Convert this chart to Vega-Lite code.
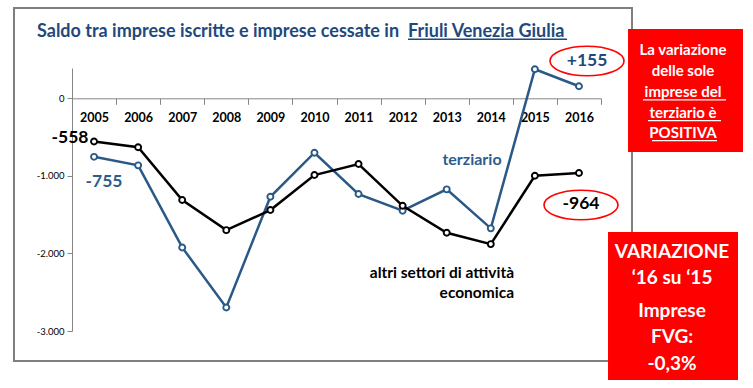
{
  "$schema": "https://vega.github.io/schema/vega-lite/v6.json",
  "width": 529,
  "height": 263,
  "autosize": {"type": "none"},
  "padding": {"left": 72, "top": 68, "right": 152, "bottom": 57},
  "background": "white",
  "config": {"view": {"stroke": null}, "font": "Lato", "text": {"font": "Lato"}},
  "datasets": {
    "saldo": [
      {"anno": "2005", "serie": "altri settori", "saldo": -558},
      {"anno": "2006", "serie": "altri settori", "saldo": -632},
      {"anno": "2007", "serie": "altri settori", "saldo": -1312},
      {"anno": "2008", "serie": "altri settori", "saldo": -1700},
      {"anno": "2009", "serie": "altri settori", "saldo": -1441},
      {"anno": "2010", "serie": "altri settori", "saldo": -990},
      {"anno": "2011", "serie": "altri settori", "saldo": -848},
      {"anno": "2012", "serie": "altri settori", "saldo": -1386},
      {"anno": "2013", "serie": "altri settori", "saldo": -1734},
      {"anno": "2014", "serie": "altri settori", "saldo": -1880},
      {"anno": "2015", "serie": "altri settori", "saldo": -999},
      {"anno": "2016", "serie": "altri settori", "saldo": -964},
      {"anno": "2005", "serie": "terziario", "saldo": -755},
      {"anno": "2006", "serie": "terziario", "saldo": -865},
      {"anno": "2007", "serie": "terziario", "saldo": -1923},
      {"anno": "2008", "serie": "terziario", "saldo": -2697},
      {"anno": "2009", "serie": "terziario", "saldo": -1270},
      {"anno": "2010", "serie": "terziario", "saldo": -702},
      {"anno": "2011", "serie": "terziario", "saldo": -1235},
      {"anno": "2012", "serie": "terziario", "saldo": -1450},
      {"anno": "2013", "serie": "terziario", "saldo": -1174},
      {"anno": "2014", "serie": "terziario", "saldo": -1677},
      {"anno": "2015", "serie": "terziario", "saldo": 374},
      {"anno": "2016", "serie": "terziario", "saldo": 155}
    ]
  },
  "layer": [
    {
      "data": {"name": "saldo"},
      "encoding": {
        "x": {"field": "anno", "type": "ordinal",
          "scale": {"type": "band", "paddingInner": 0, "paddingOuter": 0},
          "axis": {"orient": "bottom", "offset": -232.7, "tickBand": "extent", "domainColor": "#868686", "tickColor": "#868686", "tickSize": 6, "labelFontSize": 12.5, "labelFontWeight": "bold", "labelColor": "#000000", "labelFont": "Lato", "labelBaseline": "middle", "labelPadding": 12.7, "labelDx": 6.5, "labelAngle": 0, "title": null, "grid": false}},
        "y": {"field": "saldo", "type": "quantitative",
          "scale": {"domain": [-3000, 390], "nice": false, "zero": false},
          "axis": {"orient": "left", "values": [-3000, -2000, -1000, 0], "labelExpr": "datum.value == 0 ? '0' : '-' + format(-datum.value / 1000, 'd') + '.000'", "grid": false, "domainColor": "#868686", "tickColor": "#868686", "tickSize": 5, "labelFontSize": 9.5, "labelFont": "Lato", "labelColor": "#000000", "labelPadding": 3, "title": null}}
      },
      "layer": [
        {"transform": [{"filter": "datum.serie === 'terziario'"}], "mark": {"type": "line", "color": "#2B5987", "strokeWidth": 2.5}},
        {"transform": [{"filter": "datum.serie === 'terziario'"}], "mark": {"type": "point", "shape": "circle", "filled": true, "fill": "white", "stroke": "#2B5987", "strokeWidth": 1.9, "size": 36, "opacity": 1}},
        {"transform": [{"filter": "datum.serie === 'altri settori'"}], "mark": {"type": "line", "color": "#000000", "strokeWidth": 2.5}},
        {"transform": [{"filter": "datum.serie === 'altri settori'"}], "mark": {"type": "point", "shape": "circle", "filled": true, "fill": "white", "stroke": "#000000", "strokeWidth": 1.9, "size": 36, "opacity": 1}}
      ]
    },
    {
      "layer": [
        {
          "data": {"values": [{"x1": 2003.184, "x2": 2017.203, "y1": 1163, "y2": -3387}]},
          "mark": {"type": "rect", "fill": "transparent", "stroke": "#7F7F7F", "strokeWidth": 2},
          "encoding": {
            "x": {"field": "x1", "type": "quantitative", "scale": {"domain": [2004.5, 2016.5], "nice": false, "zero": false}, "axis": null},
            "x2": {"field": "x2"},
            "y": {"field": "y1", "type": "quantitative", "scale": {"domain": [-3000, 390], "nice": false, "zero": false}, "axis": null},
            "y2": {"field": "y2"}
          }
        },
        {
          "data": {"values": [
            {"x1": 2017.113, "x2": 2019.721, "y1": 893, "y2": -693},
            {"x1": 2016.659, "x2": 2019.608, "y1": -1724, "y2": -3632}
          ]},
          "mark": {"type": "rect", "fill": "#FF0000"},
          "encoding": {
            "x": {"field": "x1", "type": "quantitative", "scale": {"domain": [2004.5, 2016.5], "nice": false, "zero": false}, "axis": null},
            "x2": {"field": "x2"},
            "y": {"field": "y1", "type": "quantitative", "scale": {"domain": [-3000, 390], "nice": false, "zero": false}, "axis": null},
            "y2": {"field": "y2"}
          }
        },
        {
          "data": {"values": [{"x": 2016.183, "y": 480}, {"x": 2016.046, "y": -1376}]},
          "mark": {"type": "point", "shape": "M-1,0A1,0.4,0,1,0,1,0A1,0.4,0,1,0,-1,0Z", "size": 5476, "filled": false, "stroke": "#FF0000", "strokeWidth": 1.6, "opacity": 1},
          "encoding": {
            "x": {"field": "x", "type": "quantitative", "scale": {"domain": [2004.5, 2016.5], "nice": false, "zero": false}, "axis": null},
            "y": {"field": "y", "type": "quantitative", "scale": {"domain": [-3000, 390], "nice": false, "zero": false}, "axis": null}
          }
        },
        {
          "data": {"values": [
            {"x": 2003.706, "y": 793, "label": "Saldo tra imprese iscritte e imprese cessate in"},
            {"x": 2012.122, "y": 793, "label": "Friuli Venezia Giulia"}
          ]},
          "mark": {"type": "text", "align": "left", "baseline": "alphabetic", "font": "Lato", "fontWeight": "bold", "fontSize": 18, "color": "#1F497D"},
          "encoding": {
            "x": {"field": "x", "type": "quantitative", "scale": {"domain": [2004.5, 2016.5], "nice": false, "zero": false}, "axis": null},
            "y": {"field": "y", "type": "quantitative", "scale": {"domain": [-3000, 390], "nice": false, "zero": false}, "axis": null},
            "text": {"field": "label"}
          }
        },
        {
          "data": {"values": [{"x1": 2012.122, "x2": 2015.73, "y": 760}]},
          "mark": {"type": "rule", "color": "#1F497D", "strokeWidth": 1.5},
          "encoding": {
            "x": {"field": "x1", "type": "quantitative", "scale": {"domain": [2004.5, 2016.5], "nice": false, "zero": false}, "axis": null},
            "x2": {"field": "x2"},
            "y": {"field": "y", "type": "quantitative", "scale": {"domain": [-3000, 390], "nice": false, "zero": false}, "axis": null}
          }
        },
        {
          "data": {"values": [{"x": 2016.183, "y": 480, "label": "+155"}]},
          "mark": {"type": "text", "align": "center", "baseline": "middle", "font": "Lato", "fontWeight": "bold", "fontSize": 17.5, "color": "#1F497D"},
          "encoding": {
            "x": {"field": "x", "type": "quantitative", "scale": {"domain": [2004.5, 2016.5], "nice": false, "zero": false}, "axis": null},
            "y": {"field": "y", "type": "quantitative", "scale": {"domain": [-3000, 390], "nice": false, "zero": false}, "axis": null},
            "text": {"field": "label"}
          }
        },
        {
          "data": {"values": [{"x": 2005.226, "y": -1079, "label": "-755"}]},
          "mark": {"type": "text", "align": "center", "baseline": "middle", "font": "Lato", "fontWeight": "bold", "fontSize": 17.5, "color": "#2E5D8C"},
          "encoding": {
            "x": {"field": "x", "type": "quantitative", "scale": {"domain": [2004.5, 2016.5], "nice": false, "zero": false}, "axis": null},
            "y": {"field": "y", "type": "quantitative", "scale": {"domain": [-3000, 390], "nice": false, "zero": false}, "axis": null},
            "text": {"field": "label"}
          }
        },
        {
          "data": {"values": [{"x": 2013.574, "y": -796, "label": "terziario"}]},
          "mark": {"type": "text", "align": "center", "baseline": "middle", "font": "Lato", "fontWeight": "bold", "fontSize": 16, "color": "#2E5D8C"},
          "encoding": {
            "x": {"field": "x", "type": "quantitative", "scale": {"domain": [2004.5, 2016.5], "nice": false, "zero": false}, "axis": null},
            "y": {"field": "y", "type": "quantitative", "scale": {"domain": [-3000, 390], "nice": false, "zero": false}, "axis": null},
            "text": {"field": "label"}
          }
        },
        {
          "data": {"values": [{"x": 2004.455, "y": -506, "label": "-558"}, {"x": 2016.046, "y": -1363, "label": "-964"}]},
          "mark": {"type": "text", "align": "center", "baseline": "middle", "font": "Lato", "fontWeight": "bold", "fontSize": 17.5, "color": "#000000"},
          "encoding": {
            "x": {"field": "x", "type": "quantitative", "scale": {"domain": [2004.5, 2016.5], "nice": false, "zero": false}, "axis": null},
            "y": {"field": "y", "type": "quantitative", "scale": {"domain": [-3000, 390], "nice": false, "zero": false}, "axis": null},
            "text": {"field": "label"}
          }
        },
        {
          "data": {"values": [{"x": 2014.527, "y": -2249, "label": "altri settori di attività"}, {"x": 2014.527, "y": -2506, "label": "economica"}]},
          "mark": {"type": "text", "align": "right", "baseline": "middle", "font": "Lato", "fontWeight": "bold", "fontSize": 15.5, "color": "#000000"},
          "encoding": {
            "x": {"field": "x", "type": "quantitative", "scale": {"domain": [2004.5, 2016.5], "nice": false, "zero": false}, "axis": null},
            "y": {"field": "y", "type": "quantitative", "scale": {"domain": [-3000, 390], "nice": false, "zero": false}, "axis": null},
            "text": {"field": "label"}
          }
        },
        {
          "data": {"values": [
            {"x": 2018.36, "y": 622, "label": "La variazione"},
            {"x": 2018.36, "y": 351, "label": "delle sole"},
            {"x": 2018.36, "y": 81, "label": "imprese del"},
            {"x": 2018.36, "y": -190, "label": "terziario è"},
            {"x": 2018.36, "y": -448, "label": "POSITIVA"}
          ]},
          "mark": {"type": "text", "align": "center", "baseline": "middle", "font": "Lato", "fontWeight": "bold", "fontSize": 15, "color": "#FFFFFF"},
          "encoding": {
            "x": {"field": "x", "type": "quantitative", "scale": {"domain": [2004.5, 2016.5], "nice": false, "zero": false}, "axis": null},
            "y": {"field": "y", "type": "quantitative", "scale": {"domain": [-3000, 390], "nice": false, "zero": false}, "axis": null},
            "text": {"field": "label"}
          }
        },
        {
          "data": {"values": [
            {"x1": 2017.453, "x2": 2019.336, "y": -22},
            {"x1": 2017.566, "x2": 2019.222, "y": -289},
            {"x1": 2017.657, "x2": 2019.132, "y": -547}
          ]},
          "mark": {"type": "rule", "color": "#FFFFFF", "strokeWidth": 1.3},
          "encoding": {
            "x": {"field": "x1", "type": "quantitative", "scale": {"domain": [2004.5, 2016.5], "nice": false, "zero": false}, "axis": null},
            "x2": {"field": "x2"},
            "y": {"field": "y", "type": "quantitative", "scale": {"domain": [-3000, 390], "nice": false, "zero": false}, "axis": null}
          }
        },
        {
          "data": {"values": [
            {"x": 2018.111, "y": -1982, "label": "VARIAZIONE"},
            {"x": 2018.111, "y": -2317, "label": "‘16 su ‘15"},
            {"x": 2018.111, "y": -2742, "label": "Imprese"},
            {"x": 2018.111, "y": -3077, "label": "FVG:"},
            {"x": 2018.111, "y": -3425, "label": "-0,3%"}
          ]},
          "mark": {"type": "text", "align": "center", "baseline": "middle", "font": "Lato", "fontWeight": "bold", "fontSize": 19, "color": "#FFFFFF"},
          "encoding": {
            "x": {"field": "x", "type": "quantitative", "scale": {"domain": [2004.5, 2016.5], "nice": false, "zero": false}, "axis": null},
            "y": {"field": "y", "type": "quantitative", "scale": {"domain": [-3000, 390], "nice": false, "zero": false}, "axis": null},
            "text": {"field": "label"}
          }
        }
      ]
    }
  ],
  "resolve": {"scale": {"x": "independent", "y": "independent"}}
}
